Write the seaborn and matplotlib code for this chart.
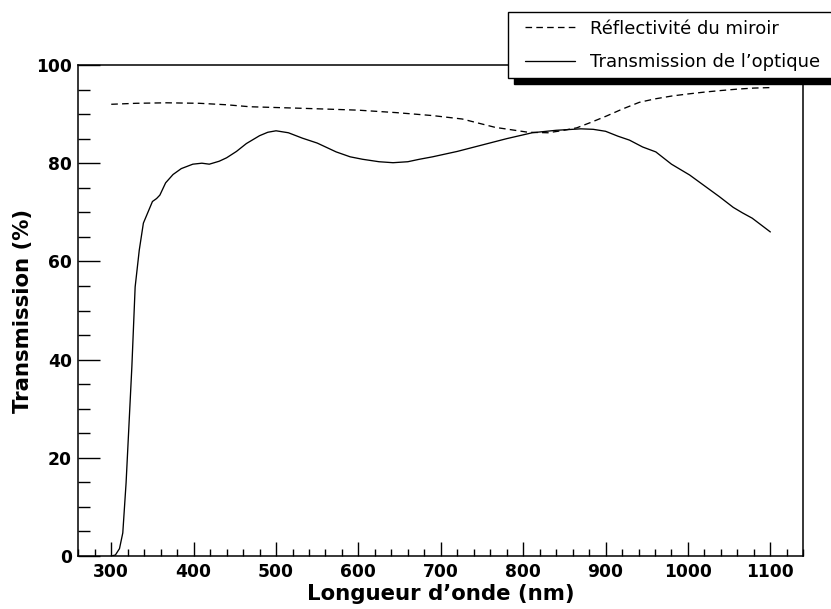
import numpy as np
import pandas as pd
import matplotlib
matplotlib.use("Agg")
import matplotlib.pyplot as plt
from matplotlib.patches import Rectangle
from matplotlib.ticker import MultipleLocator
import seaborn as sns

# values
wl_trans = [300, 305, 310, 314, 318, 321, 325, 329, 334, 339, 350, 355, 359, 366, 375,
            385, 399, 410, 419, 431, 440, 452, 464, 480, 490, 500, 515, 532, 550, 573,
            590, 605, 625, 642, 660, 674, 690, 720, 750, 780, 811, 840, 870, 885, 900,
            915, 929, 945, 961, 980, 1002, 1020, 1038, 1055, 1066, 1078, 1089, 1100]
transmission = [0, 0.2, 1.5, 4.7, 14.9, 25, 38.5, 54.8, 62.3, 67.8, 72.2, 72.8, 73.5, 76, 77.7,
                78.9, 79.8, 80, 79.8, 80.4, 81.1, 82.4, 84.0, 85.6, 86.3, 86.6, 86.2, 85.1, 84.1, 82.3,
                81.3, 80.8, 80.3, 80.1, 80.3, 80.8, 81.3, 82.4, 83.7, 85.0, 86.2, 86.7, 87.0, 86.9, 86.5,
                85.5, 84.7, 83.3, 82.3, 79.8, 77.6, 75.4, 73.2, 71.0, 69.9, 68.8, 67.4, 66.0]

wl_refl = [300, 330, 367, 407, 440, 468, 528, 565, 600, 646, 690, 726, 766, 806, 830,
           846, 865, 882, 901, 920, 941, 960, 981, 1000, 1021, 1040, 1061, 1080, 1100]
reflectivity = [92.0, 92.2, 92.3, 92.2, 91.9, 91.5, 91.2, 91.0, 90.8, 90.3, 89.7, 89.0, 87.3, 86.3, 86.2,
                86.6, 87.2, 88.3, 89.6, 91.0, 92.4, 93.1, 93.7, 94.1, 94.5, 94.8, 95.1, 95.3, 95.4]

label_refl = "Réflectivité du miroir"
label_trans = "Transmission de l\u2019optique"

W, H = 831, 609
sns.set_style("white")
plt.rcParams["font.family"] = ["DejaVu Sans"]
plt.rcParams.update({"text.color": "black", "axes.labelcolor": "black",
                     "xtick.color": "black", "ytick.color": "black"})

fig = plt.figure(figsize=(W / 100, H / 100), dpi=100)
ax = fig.add_axes([78.3 / W, 1 - 556 / H, (803.3 - 78.3) / W, (556 - 65) / H])

refl_df = pd.DataFrame({"wl": wl_refl, "val": reflectivity})
trans_df = pd.DataFrame({"wl": wl_trans, "val": transmission})

sns.lineplot(data=refl_df, x="wl", y="val", ax=ax, color="black", lw=0.95,
             linestyle=(0, (5, 3.2)), estimator=None, sort=False, label=label_refl)
sns.lineplot(data=trans_df, x="wl", y="val", ax=ax, color="black", lw=0.95,
             estimator=None, sort=False, label=label_trans)
handles, labels = ax.get_legend_handles_labels()
ax.get_legend().remove()

ax.set_xlim(260, 1140)
ax.set_ylim(0, 100)
ax.xaxis.set_major_locator(MultipleLocator(100))
ax.xaxis.set_minor_locator(MultipleLocator(20))
ax.yaxis.set_major_locator(MultipleLocator(20))
ax.yaxis.set_minor_locator(MultipleLocator(5))
ax.tick_params(axis="x", which="major", direction="in", length=10, width=1, pad=5,
               labelsize=12.3, bottom=True, top=False, colors="black")
ax.tick_params(axis="x", which="minor", direction="in", length=5.4, width=1, bottom=True, top=False,
               colors="black")
ax.tick_params(axis="y", which="major", direction="in", length=15.8, width=1, pad=4.5,
               labelsize=12.3, left=True, right=False, colors="black")
ax.tick_params(axis="y", which="minor", direction="in", length=8.6, width=1, left=True, right=False,
               colors="black")
for lab in ax.get_xticklabels() + ax.get_yticklabels():
    lab.set_fontweight("bold")
for sp in ax.spines.values():
    sp.set_color("black")
    sp.set_linewidth(1.1)

ax.set_xlabel("Longueur d\u2019onde (nm)", fontsize=15.3, fontweight="bold", labelpad=2,
              color="black")
ax.set_ylabel("Transmission (%)", fontsize=15.3, fontweight="bold", labelpad=2,
              color="black")

# ROOT-like legend box with a heavy shadow
shadow = Rectangle((514 / W, 1 - 84 / H), (W - 508) / W, 66 / H, transform=fig.transFigure,
                   facecolor="black", edgecolor="black", zorder=3)
frame = Rectangle((508 / W, 1 - 78 / H), (W - 500) / W, 66 / H, transform=fig.transFigure,
                  facecolor="white", edgecolor="black", lw=1.0, zorder=4)
fig.add_artist(shadow)
fig.add_artist(frame)
leg = fig.legend(handles, labels, loc="upper left", bbox_to_anchor=(525 / W, 1 - 19.5 / H),
                 frameon=False, fontsize=13, handlelength=2.75, handletextpad=0.85,
                 borderpad=0, borderaxespad=0, labelspacing=0.85)
for t in leg.get_texts():
    t.set_color("black")

fig.savefig("out.png", dpi=100)
